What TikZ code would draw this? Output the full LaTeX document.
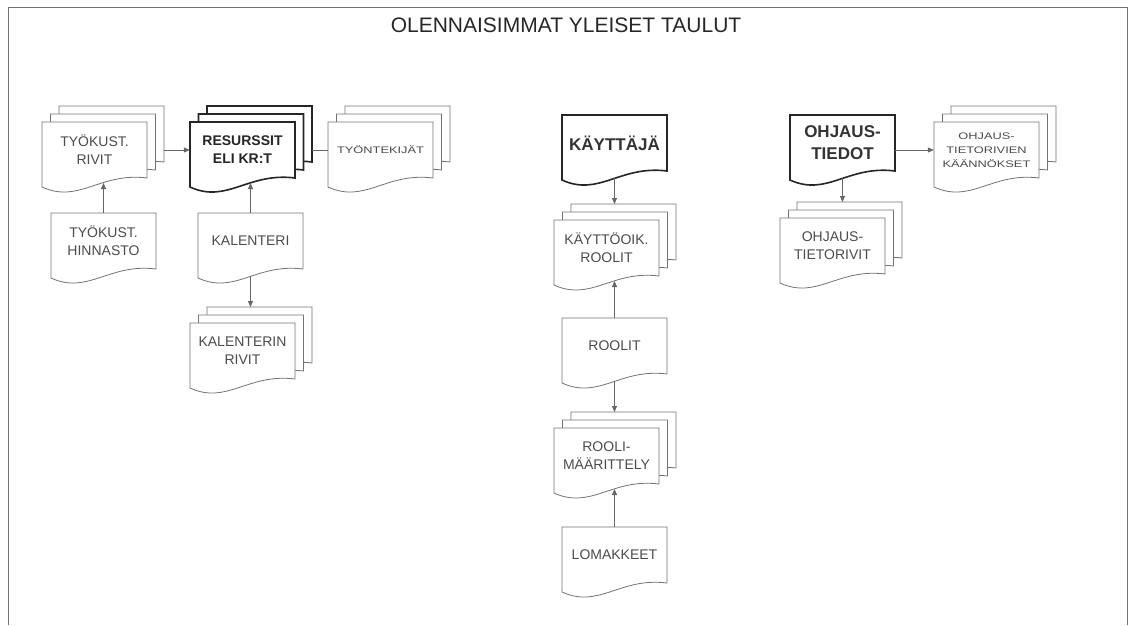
\documentclass[tikz,border=0pt]{standalone}
\usepackage{fontspec}
\setmainfont{Liberation Sans}
\newfontfamily\widefont[FakeStretch=1.35]{Liberation Sans}
\usetikzlibrary{arrows.meta}
\def\docpage[#1](#2,#3){\begin{scope}[shift={(#2,#3)}]\draw[#1] (0,0) -- (105,0) -- (105,56) .. controls (58,50) and (37,82) .. (0,65) -- cycle;\end{scope}}
\def\docstack[#1](#2,#3){\docpage[#1](#2+17,#3-16)\docpage[#1](#2+8.5,#3-8)\docpage[#1](#2,#3)}
\tikzset{
	page/.style={draw=black!55, line width=0.8pt, fill=white},
	boldpage/.style={draw=black!85, line width=1.6pt, fill=white},
	doctext/.style={minimum width=105pt, minimum height=56pt, inner sep=0pt, align=center, text=black!70, font=\fontsize{14}{18}\selectfont},
	boldtext/.style={doctext, text=black!85, font=\fontsize{14}{18}\selectfont\bfseries},
	bigtext/.style={doctext, text=black!80, font=\fontsize{17}{22}\selectfont\bfseries},
	smalltext/.style={doctext, text=black!70, font=\widefont\fontsize{9.5}{14}\selectfont},
	arr/.style={draw=black!60, line width=0.8pt, -{Triangle[length=6pt,width=5pt]}},
	link/.style={draw=black!60, line width=0.8pt}
}
\begin{document}
\begin{tikzpicture}[x=1pt, y=-1pt]
			%%%%% START %%%%%
			\useasboundingbox (0,0) rectangle (1133,625);
			\draw[line width=0.8pt, color=black!55] (8,625) -- (8,7) -- (1127,7) -- (1127,625);
			\node[text=black!85, font=\fontsize{21}{25}\selectfont] (title) at (566,25) {OLENNAISIMMAT YLEISET TAULUT};
			
			\docstack[page](42,122)
			\node[doctext] (rivit) at (94.5,150) {TYÖKUST.\\RIVIT};
			\coordinate (rivit-e) at (164,150);
			\coordinate (rivit-b) at (103,183);
			
			\docstack[boldpage](190,122)
			\node[boldtext] (resurssit) at (242.5,150) {RESURSSIT\\ELI KR:T};
			\coordinate (resurssit-e) at (312,150);
			\coordinate (resurssit-b) at (251,183);
			
			\docstack[page](328,122)
			\node[smalltext] (tyontekijat) at (380.5,150) {TYÖNTEKIJÄT};
			
			\docpage[page](51,213)
			\node[doctext] (hinnasto) at (103.5,241) {TYÖKUST.\\HINNASTO};
			
			\docpage[page](198,213)
			\node[doctext] (kalenteri) at (250.5,241) {KALENTERI};
			\coordinate (kalenteri-b) at (250.5,276);
			
			\docstack[page](190,323)
			\node[doctext] (kalrivit) at (242.5,351) {KALENTERIN\\RIVIT};
			\coordinate (kalrivit-t) at (251,307);
			
			\docpage[boldpage](562,115)
			\node[bigtext] (kayttaja) at (614.5,143) {KÄYTTÄJÄ};
			\coordinate (kayttaja-b) at (614.5,178);
			
			\docstack[page](554,220)
			\node[doctext] (kaytoik) at (606.5,248) {KÄYTTÖOIK.\\ROOLIT};
			\coordinate (kaytoik-t) at (615,204);
			\coordinate (kaytoik-b) at (615,281);
			
			\docpage[page](562,318)
			\node[doctext] (roolit) at (614.5,346) {ROOLIT};
			\coordinate (roolit-b) at (614.5,381);
			
			\docstack[page](554,428)
			\node[doctext] (maarittely) at (606.5,456) {ROOLI-\\MÄÄRITTELY};
			\coordinate (maarittely-t) at (615,412);
			\coordinate (maarittely-b) at (615,489);
			
			\docpage[page](562,527)
			\node[doctext] (lomakkeet) at (614.5,555) {LOMAKKEET};
			
			\docpage[boldpage](790,115)
			\node[bigtext] (ohjaus) at (842.5,143) {OHJAUS-\\TIEDOT};
			\coordinate (ohjaus-b) at (842.5,178);
			
			\docstack[page](934,122)
			\node[smalltext] (kaannokset) at (986.5,150) {OHJAUS-\\TIETORIVIEN\\KÄÄNNÖKSET};
			
			\docstack[page](780,218)
			\node[doctext] (ohjrivit) at (832.5,246) {OHJAUS-\\TIETORIVIT};
			\coordinate (ohjrivit-t) at (841,202);
			
			\draw[arr] (rivit-e) -- (resurssit.west);
			\draw[link] (resurssit-e) -- (tyontekijat.west);
			\draw[arr] (hinnasto.north) -- (hinnasto.north |- rivit-b);
			\draw[arr] (kalenteri.north) -- (kalenteri.north |- resurssit-b);
			\draw[arr] (kalenteri-b) -- (kalenteri-b |- kalrivit-t);
			\draw[arr] (kayttaja-b) -- (kayttaja-b |- kaytoik-t);
			\draw[arr] (roolit.north) -- (roolit.north |- kaytoik-b);
			\draw[arr] (roolit-b) -- (roolit-b |- maarittely-t);
			\draw[arr] (lomakkeet.north) -- (lomakkeet.north |- maarittely-b);
			\draw[arr] (ohjaus.east |- kaannokset.west) -- (kaannokset.west);
			\draw[arr] (ohjaus-b) -- (ohjaus-b |- ohjrivit-t);
			%%%%% END %%%%%
\end{tikzpicture}
\end{document}
